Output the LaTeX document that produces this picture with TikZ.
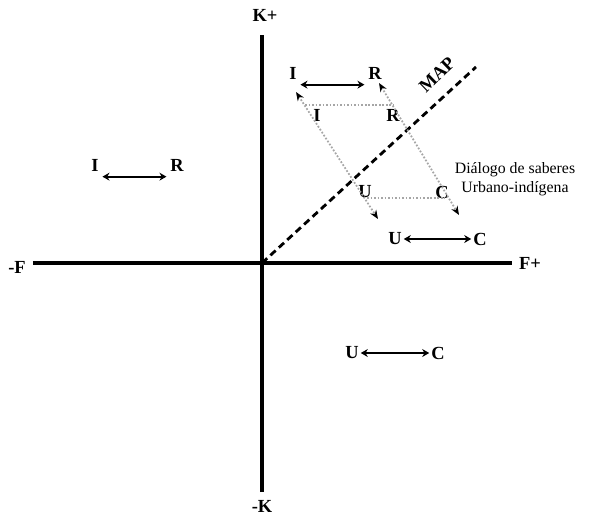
\documentclass[tikz,border=0pt]{standalone}
\usepackage{fontspec}
\setmainfont{Liberation Serif}
\usetikzlibrary{arrows.meta}
\tikzset{
  lbl/.style={font=\fontsize{10.5}{11}\selectfont\bfseries, inner sep=1pt},
  axis/.style={line width=2pt},
  pair/.style={line width=1.3pt, {Stealth[length=4pt,width=4.5pt]}-{Stealth[length=4pt,width=4.5pt]}},
  link/.style={gray!70, line width=1pt, densely dotted},
  slant/.style={link, {Stealth[length=5pt,width=4pt,black]}-{Stealth[length=5pt,width=4pt,black]}}
}
\begin{document}
\begin{tikzpicture}
\useasboundingbox (-5.24,-5.04) rectangle (6.66,5.26);
% axes
\draw[axis] (0,-4.58) -- (0,4.56);
\draw[axis] (-4.58,0) -- (5.0,0);
\node[lbl] (kp) at (0.06,4.96) {K+};
\node[lbl] (km) at (0,-4.86) {-K};
\node[lbl] (fp) at (5.36,0) {F+};
\node[lbl] (fm) at (-4.9,-0.08) {-F};
% MAP
\coordinate (o) at (0,0);
\coordinate (mapend) at (4.28,3.92);
\draw[line width=1.6pt, dash pattern=on 4pt off 2.5pt] (o) -- (mapend);
\node[lbl, rotate=44] (map) at (3.5,3.76) {MAP};
% top pair
\node[lbl] (i1) at (0.62,3.8) {I};
\node[lbl] (r1) at (2.26,3.8) {R};
\draw[pair] ([xshift=1pt,yshift=-2pt]i1.south east) -- ([xshift=-1pt,yshift=-2pt]r1.south west);
% inner parallelogram
\node[lbl] (i2) at (1.1,2.96) {I};
\node[lbl] (r2) at (2.62,2.96) {R};
\node[lbl] (u2) at (2.06,1.42) {U};
\node[lbl] (c2) at (3.6,1.42) {C};
\coordinate (ta) at (0.86,3.16);
\coordinate (tb) at (2.62,3.16);
\coordinate (ba) at (2.1,1.3);
\coordinate (bb) at (3.66,1.3);
\draw[link] (ta) -- (tb);
\draw[link] (ba) -- (bb);
\coordinate (la) at (0.68,3.42);
\coordinate (lb) at (2.32,0.88);
\coordinate (ra) at (2.34,3.6);
\coordinate (rb) at (3.94,0.96);
\draw[slant] (la) -- (lb);
\draw[slant] (ra) -- (rb);
\node[font=\fontsize{9}{11}\selectfont, align=center] (dlg) at (5.06,1.68) {Diálogo de saberes\\Urbano-indígena};
% right pair
\node[lbl] (u1) at (2.66,0.48) {U};
\node[lbl] (c1) at (4.36,0.48) {C};
\draw[pair] (u1) -- (c1);
% left pair
\node[lbl] (i3) at (-3.34,1.96) {I};
\node[lbl] (r3) at (-1.7,1.96) {R};
\draw[pair] ([xshift=1pt,yshift=-2pt]i3.south east) -- ([xshift=-1pt,yshift=-2pt]r3.south west);
% bottom pair
\node[lbl] (u3) at (1.8,-1.8) {U};
\node[lbl] (c3) at (3.52,-1.8) {C};
\draw[pair] (u3) -- (c3);
\end{tikzpicture}
\end{document}
